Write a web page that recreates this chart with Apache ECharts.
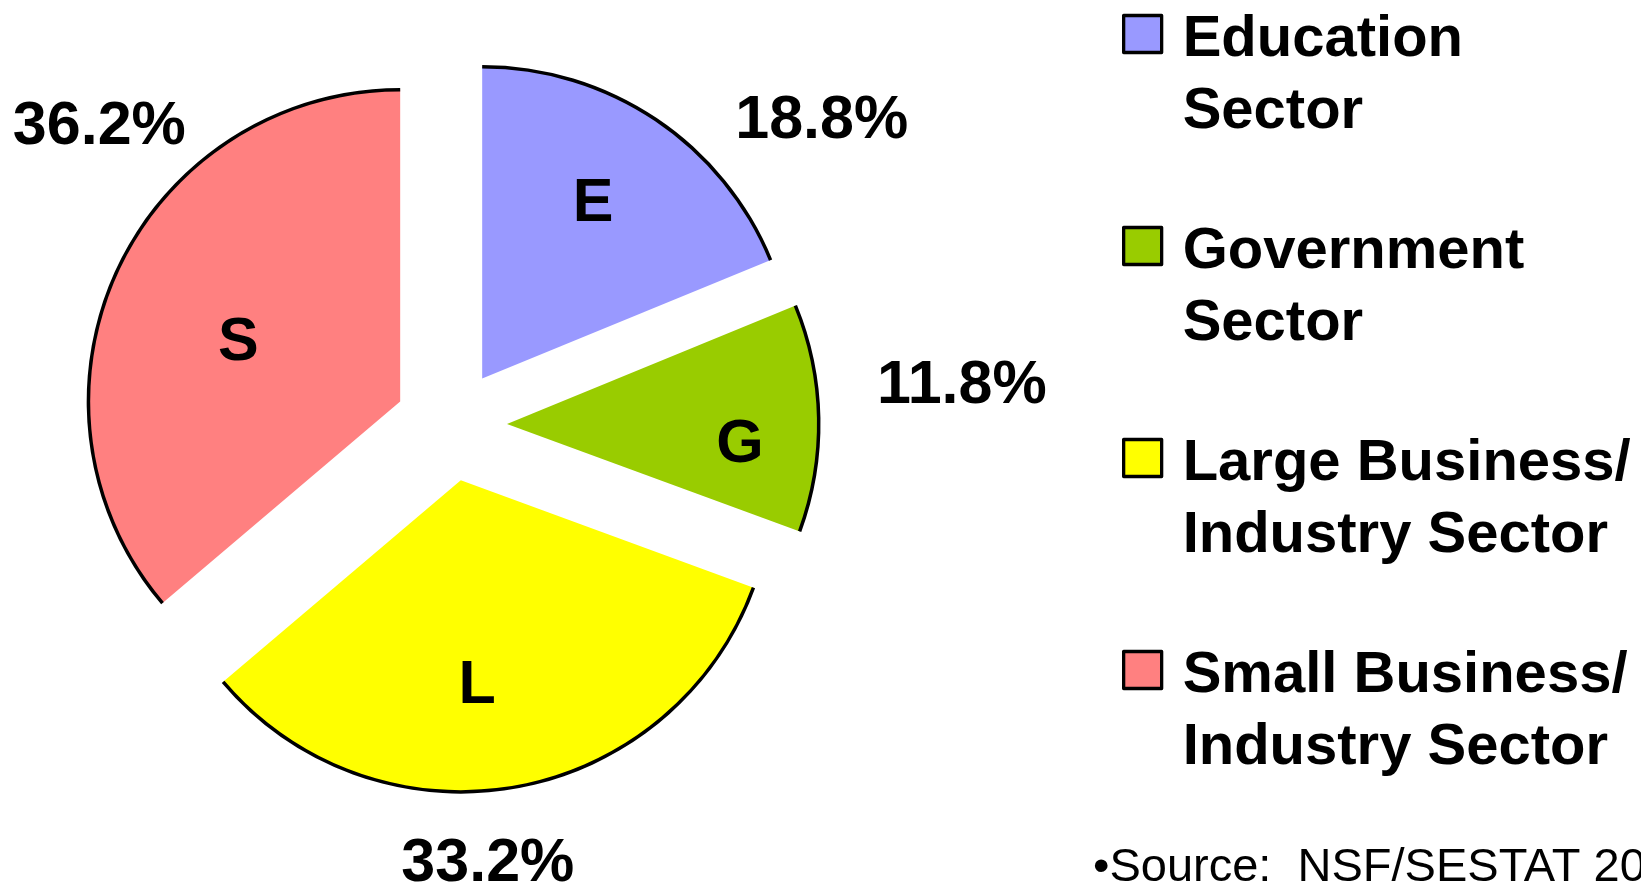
<!DOCTYPE html>
<html>
<head>
<meta charset="utf-8">
<title>Employment by sector</title>
<script src="https://cdn.jsdelivr.net/npm/echarts@6/dist/echarts.min.js"></script>
<style>
html, body { margin: 0; padding: 0; background: #fff; }
#chart { width: 1641px; height: 884px; }
</style>
</head>
<body>
<div id="chart"></div>
<script>
// values, clockwise from 12 o'clock
const sectors = ['Education Sector', 'Government Sector', 'Large Business/ Industry Sector', 'Small Business/ Industry Sector'];
const shares = [18.8, 11.8, 33.2, 36.2];
const letters = ['E', 'G', 'L', 'S'];
const legendLines = [['Education', 'Sector'], ['Government', 'Sector'], ['Large Business/', 'Industry Sector'], ['Small Business/', 'Industry Sector']];
const colors = ['#9999ff', '#99cc00', '#ffff00', '#ff8080'];

const font = '"Liberation Sans", Arial, Helvetica, sans-serif';
const center = [451, 425];
const explode = 56;

// small moves from where the library puts a label to where the original has it
const letterNudge = [[-5, -2], [25, 25], [-20, 1], [27, 29]];
const pctNudge = [[104, 94], [32, -30], [-47, -32], [83, -97]];

function pieData() {
  return sectors.map((name, i) => ({ name: name, value: shares[i], selected: true }));
}

const base = {
  type: 'pie',
  center: center,
  startAngle: 90,
  clockwise: true,
  selectedMode: 'multiple',
  selectedOffset: explode,
  avoidLabelOverlap: false,
  silent: true,
  animation: false,
  emphasis: { disabled: true },
  labelLine: { show: false }
};

const labelFont = { fontFamily: font, fontSize: 61, fontWeight: 'bold', color: '#000' };

let myChart = echarts.init(document.getElementById('chart'));
let option = {
  backgroundColor: '#fff',
  color: colors,
  title: {
    text: '\u2022Source:  NSF/SESTAT 20',
    left: 1093,
    top: 845,
    padding: 0,
    textStyle: { fontFamily: font, fontSize: 47, fontWeight: 'normal', color: '#000' }
  },
  legend: {
    orient: 'vertical',
    left: 1122,
    top: -43,
    padding: 0,
    itemGap: 28,
    itemWidth: 38,
    itemHeight: 37,
    icon: 'rect',
    selectedMode: false,
    data: sectors,
    itemStyle: { borderColor: '#000', borderWidth: 3.3 },
    // empty first row so the first text line sits level with the box
    formatter: function (name) {
      const l = legendLines[sectors.indexOf(name)];
      return '{pad| }\n{t|' + l[0] + '}\n{t|' + l[1] + '}';
    },
    textStyle: {
      fontFamily: font, fontSize: 58, fontWeight: 'bold', color: '#000',
      padding: [0, 0, 0, 16],
      rich: {
        pad: { fontSize: 10, lineHeight: 84 },
        t: { fontFamily: font, fontSize: 58, fontWeight: 'bold', color: '#000', lineHeight: 72 }
      }
    }
  },
  series: [
    // filled slices
    Object.assign({}, base, {
      name: 'share',
      radius: [0, 312],
      itemStyle: { borderWidth: 0 },
      select: { itemStyle: { borderWidth: 0 } },
      label: { show: false },
      data: pieData()
    }),
    // black rim only along the arcs
    Object.assign({}, base, {
      name: 'rim',
      radius: [310, 313.5],
      itemStyle: { color: '#000', borderWidth: 0 },
      select: { itemStyle: { color: '#000', borderWidth: 0 } },
      label: { show: false },
      data: pieData()
    }),
    // letters inside the slices
    Object.assign({}, base, {
      name: 'letters',
      radius: [195, 215],
      itemStyle: { color: 'rgba(0,0,0,0)', borderWidth: 0 },
      select: { itemStyle: { color: 'rgba(0,0,0,0)', borderWidth: 0 } },
      label: Object.assign({ show: true, position: 'inside', formatter: p => letters[p.dataIndex] }, labelFont),
      labelLayout: p => ({ dx: letterNudge[p.dataIndex][0], dy: letterNudge[p.dataIndex][1] }),
      data: pieData()
    }),
    // percentages outside
    Object.assign({}, base, {
      name: 'percent',
      radius: [410, 430],
      itemStyle: { color: 'rgba(0,0,0,0)', borderWidth: 0 },
      select: { itemStyle: { color: 'rgba(0,0,0,0)', borderWidth: 0 } },
      label: Object.assign({ show: true, position: 'inside', formatter: p => shares[p.dataIndex].toFixed(1) + '%' }, labelFont),
      labelLayout: p => ({ dx: pctNudge[p.dataIndex][0], dy: pctNudge[p.dataIndex][1] }),
      data: pieData()
    })
  ]
};
myChart.setOption(option);
</script>
</body>
</html>
